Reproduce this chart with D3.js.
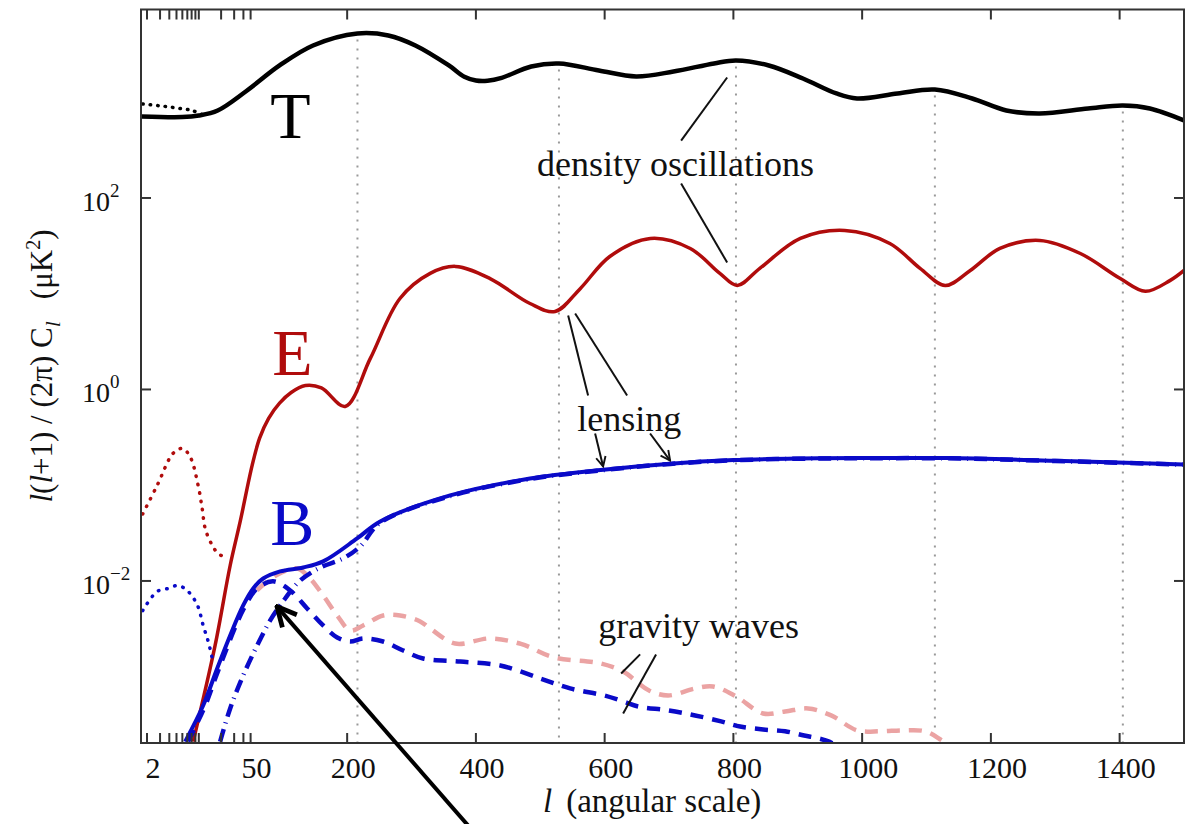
<!DOCTYPE html>
<html><head><meta charset="utf-8">
<script src="https://cdn.jsdelivr.net/npm/d3@7"></script>
<style>
html,body{margin:0;padding:0;background:#fff;}
svg{display:block;}
text{font-family:"Liberation Serif","DejaVu Serif",serif;}
</style></head>
<body>
<svg id="chart" width="1190" height="824"></svg>
<script>
// ---------- data (multipole l, l(l+1)C_l/2π in μK²) ----------
const T_l = [1.7,6,10,18,43,95,147,216,264,306,358,382,400,418,440,486,529,591,649,707,770,804,855,908,960,992,1055,1113,1171,1224,1276,1351,1405,1447,1500];
const T_v = [710,700,727,820,1295,2420,3915,5225,4980,3915,2420,1850,1690,1680,1800,2362,2540,2147,1858,2094,2540,2730,2420,1770,1234,1094,1234,1359,1094,820,763,860,925,860,645];

const Tdot_l = [1.75,2.7,3.7,5.6,8.1,11];
const Tdot_v = [960,925,900,860,820,745];

const E_l = [8.4,16.6,26.5,36.2,52.4,64,78,95,113,135,160,197,236,282,329,368,422,484,523,562,608,671,733,779,806,841,904,973,1043,1090,1129,1168,1214,1276,1339,1401,1440,1478,1500];
const E_v = [2.1e-4,2.12e-3,0.0145,0.0418,0.161,0.31,0.50,0.72,0.93,1.10,1.04,0.665,2.11,8.92,16.3,19.3,14.4,7.91,6.53,11.3,24.5,37.8,29.7,16.3,12.2,18.4,37.8,45.8,33.5,18.4,12.2,17.5,29.7,36.0,26.3,14.4,10.6,13.7,17.5];

const Edot_l = [1.75,2.74,4.5,5.97,7.6,9.8,11.1,12.2,15.2,18.2,23];
const Edot_v = [0.05,0.0994,0.215,0.242,0.2,0.0994,0.0572,0.0353,0.0235,0.0194,0.0175];

const Bdot_l = [1.75,2.74,3.87,5.27,7.19,9.6,11.45,13.4,15.2];
const Bdot_v = [4.9e-3,7.76e-3,8.35e-3,8.97e-3,7.76e-3,5.55e-3,3.43e-3,2.33e-3,1.55e-3];

const B_l = [6.55,11.45,17.7,26.5,39.7,54,69.5,95.9,131.7,162.7,215.5,251.3,360,484,598,702,800,900,1000,1130,1300,1500];
const B_v = [2.1e-4,5.0e-4,1.22e-3,2.7e-3,5.55e-3,8.35e-3,0.0106,0.01257,0.01384,0.016,0.0278,0.0418,0.0782,0.1176,0.145,0.168,0.183,0.19,0.192,0.192,0.18,0.165];

const Blens_l = [19.4,26.5,39.7,60.2,80.4,103.7,127,158,193.8,220.2,251.3,360,484,598,702,800,900,1000,1130,1300,1500];
const Blens_v = [2.1e-4,4.66e-4,1.03e-3,2.12e-3,3.87e-3,6.56e-3,0.0101,0.0138,0.0172,0.0229,0.0405,0.077,0.116,0.144,0.167,0.182,0.189,0.191,0.191,0.179,0.164];

const Bgw_l = [7.19,12.2,18.2,39.7,60.2,85,111.5,137.9,162.7,184.5,204.7,224.9,255.9,287,318,375.5,437.7,499.8,546.4,599.2,628.7,652,698.6,740.5,780.9,810.4,846.2,880.3,909.9,933.2,948.7,965.8];
const Bgw_v = [2.1e-4,5e-4,1.15e-3,5e-3,8.35e-3,9.9e-3,7.96e-3,5.16e-3,3.43e-3,2.57e-3,2.33e-3,2.51e-3,2.33e-3,1.88e-3,1.55e-3,1.44e-3,1.31e-3,9.6e-4,7.54e-4,6.37e-4,5.52e-4,4.89e-4,4.45e-4,3.94e-4,3.41e-4,3.02e-4,2.81e-4,2.69e-4,2.43e-4,2.26e-4,2.1e-4,1.78e-4];

const Egw_l = [60,90,122.3,142.5,162.7,184.5,204.7,224.9,255.9,282.3,313.4,328.9,367.8,422,470,520,593,628.7,669,698.6,740.5,768.5,804.2,846.2,880.3,916,951.8,992.2,1027.9,1063.6,1097.8,1124.2,1144];
const Egw_v = [8e-3,0.0115,0.0135,0.0106,7.06e-3,4.36e-3,3.04e-3,3.43e-3,4.36e-3,4.36e-3,3.78e-3,3.19e-3,2.22e-3,2.51e-3,2.2e-3,1.6e-3,1.38e-3,1.13e-3,7.18e-4,6.37e-4,7.54e-4,7.9e-4,6.22e-4,4.13e-4,4.33e-4,4.66e-4,3.94e-4,2.75e-4,2.69e-4,2.75e-4,2.69e-4,2.16e-4,1.78e-4];

// dotted guide lines at the temperature peaks
const peak_l = [216,529,804,1113,1405];
const peak_v = [5225,2540,2730,1359,925];

// axis ticks
const xLabelTicks = [2,50,200,400,600,800,1000,1200,1400];
const xMinorTicks = [2,3,4,5,6,7,8,9,10,20,30,40,50,200,400,600,800,1000,1200,1400];
const yTicks = [1e-2,1,1e2];
const yTickExp = ["\u22122","0","2"];

// ---------- scales ----------
const L = {left:141, right:1184, top:9.5, bottom:743};
const xT = l => l >= 50 ? l : 50*(1+Math.log(l/50));   // log below 50, linear above
const xs = d3.scaleLinear().domain([xT(1.66),1500]).range([L.left,L.right]);
const X = l => xs(xT(l));
const Y = d3.scaleLog().domain([2.03e-4,9300]).range([L.bottom,L.top]);

const svg = d3.select("#chart");
svg.append("defs").append("clipPath").attr("id","clip")
  .append("rect").attr("x",L.left).attr("y",L.top).attr("width",L.right-L.left).attr("height",L.bottom-L.top);

const zip = (a,b) => a.map((l,i)=>({l, v:b[i]}));
const line = d3.line().x(d=>X(d.l)).y(d=>Y(d.v)).curve(d3.curveCatmullRom.alpha(0.5));
const plot = svg.append("g").attr("clip-path","url(#clip)");

// guide lines
plot.selectAll("line.guide").data(zip(peak_l,peak_v)).join("line")
  .attr("x1",d=>X(d.l)).attr("x2",d=>X(d.l))
  .attr("y1",d=>Y(d.v)+6).attr("y2",L.bottom)
  .attr("stroke","#999").attr("stroke-width",2).attr("stroke-dasharray","2,7");

function draw(l,v,color,width,dash,cap){
  plot.append("path").datum(zip(l,v)).attr("d",line)
    .attr("fill","none").attr("stroke",color).attr("stroke-width",width)
    .attr("stroke-linecap", cap||"butt")
    .attr("stroke-dasharray",dash||null);
}
const RED="#b00c0c", BLUE="#0a0ac8", PINK="#eba3a3";
draw(Egw_l,Egw_v,PINK,4.5,"13,9");
draw(Tdot_l,Tdot_v,"#000",3.5,"0.5,7","round");
draw(T_l,T_v,"#000",4.5);
draw(Edot_l,Edot_v,RED,3.5,"0.5,8","round");
draw(E_l,E_v,RED,3.5);
draw(Bdot_l,Bdot_v,BLUE,3.5,"0.5,8","round");
draw(Bgw_l,Bgw_v,BLUE,4.5,"13,9");
draw(Blens_l,Blens_v,BLUE,4.5,"13,6,1,6");
draw(B_l,B_v,BLUE,4);

// ---------- frame & ticks ----------
const ax = svg.append("g").attr("stroke","#333").attr("stroke-width",2);
ax.append("rect").attr("x",L.left).attr("y",L.top).attr("width",L.right-L.left).attr("height",L.bottom-L.top).attr("fill","none");
xMinorTicks.forEach(t=>{
  ax.append("line").attr("x1",X(t)).attr("x2",X(t)).attr("y1",L.bottom).attr("y2",L.bottom-10);
  ax.append("line").attr("x1",X(t)).attr("x2",X(t)).attr("y1",L.top).attr("y2",L.top+10);
});
yTicks.forEach(t=>{
  ax.append("line").attr("x1",L.left).attr("x2",L.left+10).attr("y1",Y(t)).attr("y2",Y(t));
  ax.append("line").attr("x1",L.right).attr("x2",L.right-10).attr("y1",Y(t)).attr("y2",Y(t));
});
svg.selectAll("text.xt").data(xLabelTicks).join("text")
  .attr("x",d=>X(d)+6).attr("y",778).attr("text-anchor","middle")
  .attr("font-size",30).attr("fill","#111").text(d=>d);
yTicks.forEach((t,i)=>{
  const tx = svg.append("text").attr("x",82).attr("y",Y(t)+13).attr("font-size",28).attr("fill","#111");
  tx.append("tspan").text("10");
  tx.append("tspan").attr("dy",-14).attr("font-size",19).text(yTickExp[i]);
});

// axis titles
const xl = svg.append("text").attr("x",543).attr("y",812).attr("font-size",33).attr("fill","#111");
xl.append("tspan").attr("font-style","italic").text("l");
xl.append("tspan").attr("dx",14).text("(angular scale)");

const yl = svg.append("text").attr("transform","translate(52,366) rotate(-90)")
  .attr("text-anchor","middle").attr("font-size",31).attr("fill","#111");
yl.append("tspan").attr("font-style","italic").text("l");
yl.append("tspan").text("(");
yl.append("tspan").attr("font-style","italic").text("l");
yl.append("tspan").text("+1) / (2\u03c0)  C");
yl.append("tspan").attr("font-style","italic").attr("font-size",22).attr("dy",8).text("l");
yl.append("tspan").attr("dy",-8).attr("dx",22).text("(\u03bcK");
yl.append("tspan").attr("font-size",20).attr("dy",-12).text("2");
yl.append("tspan").attr("dy",12).text(")");

// ---------- annotations (anchored in data coordinates) ----------
const labels = [
  {t:"T", l:80.4, v:418, size:66, color:"#000"},
  {t:"E", l:83.5, v:1.40, size:66, color:RED},
  {t:"B", l:80.4, v:0.0235, size:66, color:BLUE},
  {t:"density oscillations", l:495, v:167.7, size:36, color:"#111"},
  {t:"lensing", l:557.3, v:0.364, size:36, color:"#111"},
  {t:"gravity waves", l:589.9, v:2.51e-3, size:36, color:"#111"}
];
labels.forEach(d=>svg.append("text").attr("x",X(d.l)).attr("y",Y(d.v))
  .attr("font-size",d.size).attr("fill",d.color).text(d.t));

const leaders = [
  [790.3,1813,718.8,398],[718.8,141.7,790.3,21.2],
  [543.3,5.93,574.3,0.866],[554.2,6.21,634.9,0.866],
  [655.1,1.71e-3,625.6,1.08e-3],[679.9,1.71e-3,628.7,4.13e-4]
];
leaders.forEach(a=>svg.append("line").attr("x1",X(a[0])).attr("y1",Y(a[1])).attr("x2",X(a[2])).attr("y2",Y(a[3]))
  .attr("stroke","#111").attr("stroke-width",2));

const defs = svg.select("defs");
defs.append("marker").attr("id","ah").attr("viewBox","0 0 10 10").attr("refX",9).attr("refY",5)
  .attr("markerWidth",6).attr("markerHeight",6).attr("orient","auto-start-reverse")
  .append("path").attr("d","M1,1 L9,5 L1,9").attr("fill","none").attr("stroke","#111").attr("stroke-width",1.6);
const arrows = [[585.2,0.347,597.6,0.157],[670.6,0.347,701.7,0.181]];
arrows.forEach(a=>svg.append("line").attr("x1",X(a[0])).attr("y1",Y(a[1])).attr("x2",X(a[2])).attr("y2",Y(a[3]))
  .attr("stroke","#111").attr("stroke-width",2).attr("marker-end","url(#ah)"));

// big arrow pointing at the gravity-wave B-mode bump
defs.append("marker").attr("id","bigah").attr("viewBox","0 0 10 10").attr("refX",9).attr("refY",5)
  .attr("markerWidth",6).attr("markerHeight",6).attr("orient","auto")
  .append("path").attr("d","M1,1 L9,5 L1,9").attr("fill","none").attr("stroke","#000").attr("stroke-width",2).attr("stroke-linejoin","miter");
const bigArrow = {l:91, v:5.4e-3};
svg.append("line").attr("x1",472).attr("y1",830).attr("x2",X(bigArrow.l)).attr("y2",Y(bigArrow.v))
  .attr("stroke","#000").attr("stroke-width",4).attr("marker-end","url(#bigah)");
</script>
</body></html>
